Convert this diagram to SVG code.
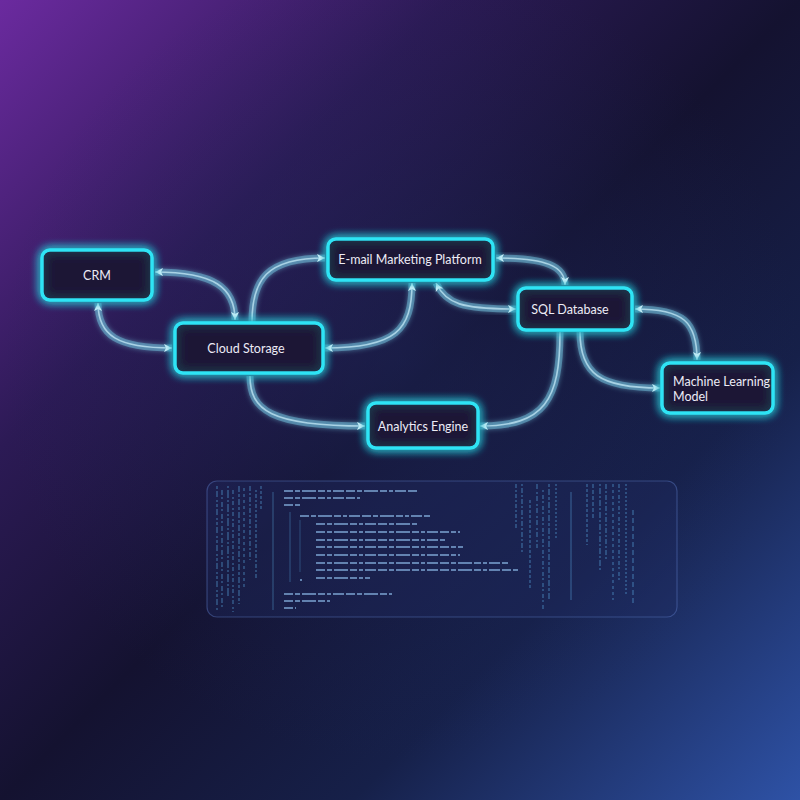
<svg xmlns="http://www.w3.org/2000/svg" xmlns:xlink="http://www.w3.org/1999/xlink" width="800" height="800" viewBox="0 0 800 800">
<defs>
  <linearGradient id="bg" x1="0" y1="0" x2="1" y2="1">
    <stop offset="0" stop-color="#6b2a9f"/>
    <stop offset="0.28" stop-color="#2c1a55"/>
    <stop offset="0.5" stop-color="#141230"/>
    <stop offset="0.72" stop-color="#162049"/>
    <stop offset="1" stop-color="#2e52a6"/>
  </linearGradient>
  <radialGradient id="glowC" cx="0.5" cy="0.45" r="0.5">
    <stop offset="0" stop-color="#1e2a60" stop-opacity="0.45"/>
    <stop offset="1" stop-color="#1e2a60" stop-opacity="0"/>
  </radialGradient>
  <filter id="glow" x="-30%" y="-50%" width="160%" height="200%">
    <feGaussianBlur in="SourceGraphic" stdDeviation="5" result="b"/>
    <feMerge><feMergeNode in="b"/><feMergeNode in="b"/><feMergeNode in="SourceGraphic"/></feMerge>
  </filter>
  <filter id="tglow" x="-20%" y="-20%" width="140%" height="140%">
    <feGaussianBlur in="SourceGraphic" stdDeviation="2.5" result="b"/>
    <feMerge><feMergeNode in="b"/><feMergeNode in="SourceGraphic"/></feMerge>
  </filter>
  <marker id="ah" viewBox="0 0 10 10" refX="9" refY="5" markerWidth="10" markerHeight="10" markerUnits="userSpaceOnUse" orient="auto-start-reverse">
    <path d="M1,1 L9,5 L1,9 L3,5 Z" fill="#d8eef8"/>
  </marker>
  <style>
    .node rect{fill:#1c1736;fill-opacity:0.92;stroke:#2fe4f5;stroke-width:3.5;filter:url(#glow)}
    .node text{font-family:Lato,"Noto Sans",sans-serif;font-size:12.5px;fill:#ecebf5;text-anchor:middle;dominant-baseline:central}
    .tube{fill:none;stroke:#6cb4d2;stroke-width:7;stroke-opacity:0.55;filter:url(#tglow)}
    .core{fill:none;stroke:#c4e8f5;stroke-width:1.6;stroke-opacity:0.75}
    .code{stroke:#8ab8e6;stroke-width:2;stroke-opacity:0.65}
    .vs{stroke:#5aa8e0;stroke-width:1.3;stroke-opacity:0.5}
  </style>
  <path id="c1" d="M235,320 C235,288 215,272 155,272"/>
  <path id="c2" d="M98,303 C98,336 118,348 172,348"/>
  <path id="c3" d="M252,322 C252,280 266,258 325,258"/>
  <path id="c4" d="M412,283 C412,330 396,348 325,348"/>
  <path id="c5" d="M496,258 C546,258 565,266 565,285"/>
  <path id="c6" d="M436,283 C446,304 462,309 516,309"/>
  <path id="c7" d="M635,309 C684,309 697,322 697,360"/>
  <path id="c8" d="M580,332 C580,374 600,388 660,388"/>
  <path id="c9" d="M560,332 C560,400 545,426 480,426"/>
  <path id="c10" d="M250,376 C250,410 270,426 365,426"/>
</defs>

<rect width="800" height="800" fill="url(#bg)"/>
<rect width="800" height="800" fill="url(#glowC)"/>

<g id="connectors">
  <use xlink:href="#c1" class="tube"/><use xlink:href="#c1" class="core" marker-start="url(#ah)" marker-end="url(#ah)"/>
  <use xlink:href="#c2" class="tube"/><use xlink:href="#c2" class="core" marker-start="url(#ah)" marker-end="url(#ah)"/>
  <use xlink:href="#c3" class="tube"/><use xlink:href="#c3" class="core" marker-end="url(#ah)"/>
  <use xlink:href="#c4" class="tube"/><use xlink:href="#c4" class="core" marker-start="url(#ah)" marker-end="url(#ah)"/>
  <use xlink:href="#c5" class="tube"/><use xlink:href="#c5" class="core" marker-start="url(#ah)" marker-end="url(#ah)"/>
  <use xlink:href="#c6" class="tube"/><use xlink:href="#c6" class="core" marker-start="url(#ah)" marker-end="url(#ah)"/>
  <use xlink:href="#c7" class="tube"/><use xlink:href="#c7" class="core" marker-start="url(#ah)" marker-end="url(#ah)"/>
  <use xlink:href="#c8" class="tube"/><use xlink:href="#c8" class="core" marker-end="url(#ah)"/>
  <use xlink:href="#c9" class="tube"/><use xlink:href="#c9" class="core" marker-end="url(#ah)"/>
  <use xlink:href="#c10" class="tube"/><use xlink:href="#c10" class="core" marker-end="url(#ah)"/>
</g>

<g id="crm" class="node"><rect x="42" y="250" width="110" height="50" rx="8"/><text x="97" y="275">CRM</text></g>
<g id="cloud-storage" class="node"><rect x="175" y="323" width="148" height="50" rx="8"/><text x="246" y="348">Cloud Storage</text></g>
<g id="email-marketing" class="node"><rect x="328" y="239" width="165" height="41" rx="8"/><text x="410" y="259">E-mail Marketing Platform</text></g>
<g id="sql-database" class="node"><rect x="518" y="288" width="114" height="42" rx="8"/><text x="570" y="309">SQL Database</text></g>
<g id="ml-model" class="node"><rect x="662" y="363" width="111" height="50" rx="8"/><text x="673" y="381" style="text-anchor:start">Machine Learning</text><text x="673" y="396" style="text-anchor:start">Model</text></g>
<g id="analytics-engine" class="node"><rect x="368" y="403" width="110" height="45" rx="8"/><text x="423" y="426">Analytics Engine</text></g>

<g id="code-panel">
  <rect x="207" y="481" width="470" height="136" rx="10" fill="#1f2b62" fill-opacity="0.35" stroke="#5a78c0" stroke-opacity="0.45" stroke-width="1.2"/>
  <g class="vs">
    <line x1="217" y1="486" x2="217" y2="612" stroke-dasharray="3 2 6 3 2 2"/>
    <line x1="222" y1="490" x2="222" y2="608" stroke-dasharray="5 2 2 3"/>
    <line x1="228" y1="486" x2="228" y2="598" stroke-dasharray="2 2 8 2"/>
    <line x1="233" y1="490" x2="233" y2="612" stroke-dasharray="4 3 2 2"/>
    <line x1="239" y1="486" x2="239" y2="604" stroke-dasharray="6 2 3 2"/>
    <line x1="244" y1="488" x2="244" y2="590" stroke-dasharray="3 3"/>
    <line x1="250" y1="486" x2="250" y2="560" stroke-dasharray="5 2 2 2"/>
    <line x1="256" y1="490" x2="256" y2="580" stroke-dasharray="2 2 4 2"/>
    <line x1="261" y1="486" x2="261" y2="510" stroke-dasharray="3 2"/>
    <line x1="273" y1="492" x2="273" y2="610" stroke-opacity="0.35"/>
    <line x1="290" y1="512" x2="290" y2="582" stroke-opacity="0.3"/>
    <line x1="300" y1="520" x2="300" y2="572" stroke-opacity="0.25"/>
    <line x1="516" y1="484" x2="516" y2="528" stroke-dasharray="4 2 2 2"/>
    <line x1="522" y1="484" x2="522" y2="552" stroke-dasharray="2 2 5 2"/>
    <line x1="530" y1="500" x2="530" y2="590" stroke-dasharray="3 2"/>
    <line x1="537" y1="484" x2="537" y2="548" stroke-dasharray="5 3 2 2"/>
    <line x1="543" y1="490" x2="543" y2="610" stroke-dasharray="2 3 4 2"/>
    <line x1="549" y1="484" x2="549" y2="600" stroke-dasharray="3 2 6 2"/>
    <line x1="556" y1="484" x2="556" y2="540" stroke-dasharray="2 2"/>
    <line x1="571" y1="492" x2="571" y2="600" stroke-opacity="0.4"/>
    <line x1="587" y1="484" x2="587" y2="545" stroke-dasharray="3 2"/>
    <line x1="593" y1="484" x2="593" y2="520" stroke-dasharray="4 2"/>
    <line x1="600" y1="484" x2="600" y2="570" stroke-dasharray="2 2 6 2"/>
    <line x1="606" y1="484" x2="606" y2="560" stroke-dasharray="5 2 2 2"/>
    <line x1="613" y1="484" x2="613" y2="600" stroke-dasharray="3 3"/>
    <line x1="619" y1="484" x2="619" y2="580" stroke-dasharray="4 2 2 3"/>
    <line x1="626" y1="484" x2="626" y2="595" stroke-dasharray="2 2"/>
    <line x1="633" y1="510" x2="633" y2="605" stroke-dasharray="5 3"/>
  </g>
  <g class="code" stroke-dasharray="9 2 5 2 14 2 7 2 4 2 11 2">
    <line x1="284" y1="491" x2="418" y2="491"/>
    <line x1="284" y1="498" x2="360" y2="498"/>
    <line x1="284" y1="505" x2="300" y2="505"/>
    <line x1="300" y1="516" x2="430" y2="516"/>
    <line x1="316" y1="524" x2="417" y2="524"/>
    <line x1="316" y1="532" x2="460" y2="532"/>
    <line x1="316" y1="540" x2="445" y2="540"/>
    <line x1="316" y1="547" x2="463" y2="547"/>
    <line x1="316" y1="555" x2="460" y2="555"/>
    <line x1="316" y1="563" x2="508" y2="563"/>
    <line x1="316" y1="570" x2="520" y2="570"/>
    <line x1="316" y1="578" x2="370" y2="578"/>
    <line x1="300" y1="580" x2="302" y2="580"/>
    <line x1="284" y1="594" x2="392" y2="594"/>
    <line x1="284" y1="601" x2="330" y2="601"/>
    <line x1="284" y1="608" x2="296" y2="608"/>
  </g>
</g>
</svg>
